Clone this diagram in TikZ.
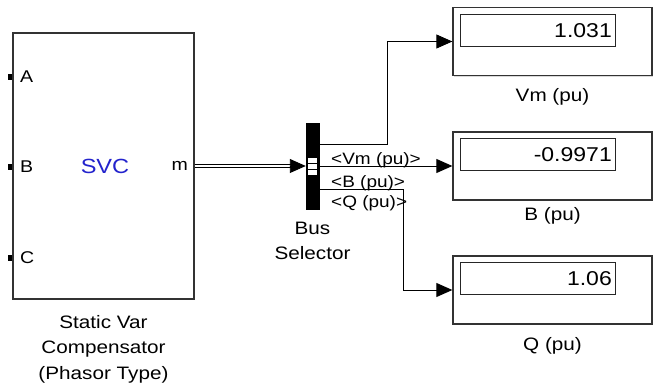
\documentclass[tikz,border=0pt]{standalone}
\usepackage{fontspec}
\setmainfont{Liberation Sans}[FakeStretch=1.15]
\usetikzlibrary{arrows.meta,positioning,shadows}
\definecolor{svcblue}{RGB}{35,35,205}

\begin{document}
\begin{tikzpicture}[
                >={Triangle[length=16pt,width=14pt]},
                x=1pt,
                y=-1pt,
                block/.style={draw=black!80, line width=1.3pt, fill=white, inner sep=0pt,
                    drop shadow={shadow xshift=1.2pt, shadow yshift=-1.5pt, opacity=0.3}},
                field/.style={draw=black!85, line width=0.9pt, inner sep=0pt,
                    minimum width=155pt, minimum height=32pt},
                caption/.style={align=center, inner sep=0pt, anchor=north,
                    font=\fontsize{18}{25.5}\selectfont},
                value/.style={anchor=east, inner sep=0pt, font=\fontsize{20}{24}\selectfont},
                portmark/.style={fill=black, minimum width=4pt, minimum height=6pt, inner sep=0pt},
                portlabel/.style={anchor=west, inner sep=0pt, font=\fontsize{17}{20}\selectfont},
                siglabel/.style={anchor=base west, inner sep=0pt, font=\fontsize{16.5}{19}\selectfont},
                sig/.style={->, line width=0.9pt},
            ]

            \useasboundingbox (0,0) rectangle (657,390);

            \node[block, minimum width=181pt, minimum height=266pt] (svc) at (103.5,166) {};
            \node[portmark] (pa) at (10,77) {};
            \node[portmark] (pb) at (10,167) {};
            \node[portmark] (pc) at (10,258) {};
            \node[portlabel] (la) at (20,77) {A};
            \node[portlabel] (lb) at (20,167) {B};
            \node[portlabel] (lc) at (20,258) {C};
            \node[inner sep=0pt, text=svcblue, font=\fontsize{20.5}{24}\selectfont] (svcname) at (105,166) {SVC};
            \node[portlabel, anchor=east] (lm) at (188,166) {m};
            \node[caption] (svccap) at (103.5,315) {Static Var\\Compensator\\(Phasor Type)};

            \node[fill=black, draw=black, inner sep=0pt, minimum width=13pt, minimum height=86pt] (bus) at (312.5,166) {};
            \node[draw=black, fill=white, line width=0.6pt, inner sep=0pt, minimum width=10pt, minimum height=6pt] (bs1) at (312,160) {};
            \node[draw=black, fill=white, line width=0.6pt, inner sep=0pt, minimum width=10pt, minimum height=6pt] (bs2) at (312,166) {};
            \node[draw=black, fill=white, line width=0.6pt, inner sep=0pt, minimum width=10pt, minimum height=6pt] (bs3) at (312,172) {};
            \node[caption] (buscap) at (312.5,221.5) {Bus\\Selector};

            \node[block, minimum width=199pt, minimum height=68pt] (vmbox) at (552.5,41.5) {};
            \node[field] (vmfield) at (537.5,30.5) {};
            \node[value] (vmval) at (612,30.5) {1.031};
            \node[caption] (vmcap) at (552.5,88) {Vm (pu)};

            \node[block, minimum width=199pt, minimum height=68pt] (bbox) at (552.5,166) {};
            \node[field] (bfield) at (537.5,154.5) {};
            \node[value] (bval) at (612,154.5) {-0.9971};
            \node[caption] (bcap) at (552.5,207) {B (pu)};

            \node[block, minimum width=199pt, minimum height=68pt] (qbox) at (552.5,290) {};
            \node[field] (qfield) at (537.5,278.5) {};
            \node[value] (qval) at (612,278.5) {1.06};
            \node[caption] (qcap) at (552.5,337) {Q (pu)};

            \draw[double, line width=1.2pt, double distance=2pt, shorten >=14pt] (svc.east) -- (bus.west);
            \draw[sig] ([xshift=-16pt]bus.west) -- (bus.west);

            \draw[sig] ([yshift=22pt]bus.east) -- ++(68,0) |- (vmbox.west);
            \draw[sig] (bus.east) -- (bbox.west);
            \draw[sig] ([yshift=-23pt]bus.east) -- ++(84,0) |- (qbox.west);

            \node[siglabel] (vmsig) at (331,165) {<Vm (pu)>};
            \node[siglabel] (bsig) at (331,188) {<B (pu)>};
            \node[siglabel] (qsig) at (331,208) {<Q (pu)>};

            \end{tikzpicture}
\end{document}
